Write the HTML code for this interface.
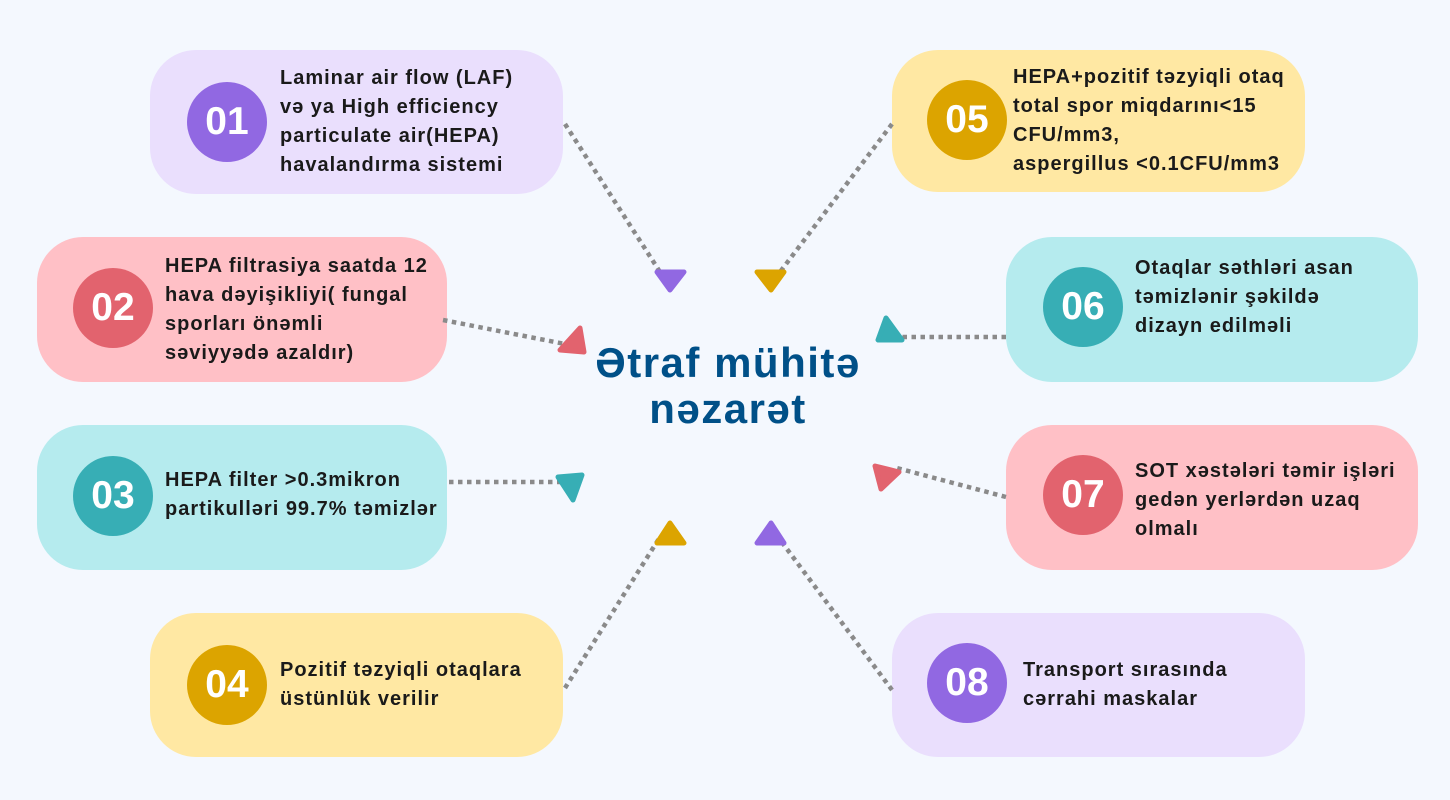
<!DOCTYPE html>
<html><head><meta charset="utf-8"><style>
body{margin:0;width:1450px;height:800px;background:#f4f8fe;position:relative;overflow:hidden;font-family:"Liberation Sans",sans-serif}
.box{position:absolute;border-radius:46px}
.c{position:absolute;width:80px;height:80px;border-radius:50%;color:#fff;font-weight:bold;font-size:39px;display:flex;align-items:center;justify-content:center;letter-spacing:0px}
.t{position:absolute;font-weight:bold;font-size:20px;letter-spacing:1px;line-height:29px;color:#1a1a1a;display:flex;align-items:center;white-space:nowrap}
.p{background:#eadffd}.pc{background:#9168e2}
.r{background:#ffc0c6}.rc{background:#e2636e}
.g{background:#b5ebee}.gc{background:#37aeb5}
.y{background:#ffe8a3}.yc{background:#dca400}
.title{position:absolute;left:478px;width:500px;top:340px;text-align:center;color:#005088;font-weight:bold;font-size:42px;letter-spacing:1.5px;line-height:46px}
svg{position:absolute;left:0;top:0}
</style></head><body>
<div class="box p" style="left:150px;top:50px;width:413px;height:144px"></div>
<div class="c pc" style="left:187px;top:82px">01</div>
<div class="t" style="left:280px;top:50px;height:144px">Laminar air flow (LAF)<br>və ya High efficiency<br>particulate air(HEPA)<br>havalandırma sistemi</div>

<div class="box r" style="left:37px;top:237px;width:410px;height:145px"></div>
<div class="c rc" style="left:73px;top:268px">02</div>
<div class="t" style="left:165px;top:237px;height:145px">HEPA filtrasiya saatda 12<br>hava dəyişikliyi( fungal<br>sporları önəmli<br>səviyyədə azaldır)</div>

<div class="box g" style="left:37px;top:425px;width:410px;height:145px"></div>
<div class="c gc" style="left:73px;top:456px">03</div>
<div class="t" style="left:165px;top:425px;height:140px">HEPA filter &gt;0.3mikron<br>partikulləri 99.7% təmizlər</div>

<div class="box y" style="left:150px;top:613px;width:413px;height:144px"></div>
<div class="c yc" style="left:187px;top:645px">04</div>
<div class="t" style="left:280px;top:613px;height:144px">Pozitif təzyiqli otaqlara<br>üstünlük verilir</div>

<div class="box y" style="left:892px;top:50px;width:413px;height:142px"></div>
<div class="c yc" style="left:927px;top:80px">05</div>
<div class="t" style="left:1013px;top:50px;height:142px">HEPA+pozitif təzyiqli otaq<br>total spor miqdarını&lt;15<br>CFU/mm3,<br>aspergillus &lt;0.1CFU/mm3</div>

<div class="box g" style="left:1006px;top:237px;width:412px;height:145px"></div>
<div class="c gc" style="left:1043px;top:267px">06</div>
<div class="t" style="left:1135px;top:237px;height:120px">Otaqlar səthləri asan<br>təmizlənir şəkildə<br>dizayn edilməli</div>

<div class="box r" style="left:1006px;top:425px;width:412px;height:145px"></div>
<div class="c rc" style="left:1043px;top:455px">07</div>
<div class="t" style="left:1135px;top:425px;height:150px">SOT xəstələri təmir işləri<br>gedən yerlərdən uzaq<br>olmalı</div>

<div class="box p" style="left:892px;top:613px;width:413px;height:144px"></div>
<div class="c pc" style="left:927px;top:643px">08</div>
<div class="t" style="left:1023px;top:613px;height:144px">Transport sırasında<br>cərrahi maskalar</div>

<svg width="1450" height="800">
<g stroke="#8a8a8a" stroke-width="4.5" stroke-dasharray="4.5 4.5" fill="none">
<line x1="565" y1="124" x2="660" y2="272"/>
<line x1="443" y1="320" x2="565" y2="344"/>
<line x1="449" y1="482" x2="560" y2="482"/>
<line x1="565" y1="688" x2="660" y2="537"/>
<line x1="892" y1="124" x2="780" y2="272"/>
<line x1="1006" y1="337" x2="895" y2="337"/>
<line x1="1006" y1="497" x2="893" y2="467"/>
<line x1="892" y1="690" x2="778" y2="537"/>
</g>
<g stroke-linejoin="round" stroke-width="5">
<polygon points="657,272 684,272 670,290" fill="#9168e2" stroke="#9168e2"/>
<polygon points="757,272 784,272 771,290" fill="#dca400" stroke="#dca400"/>
<polygon points="560,350 580,328 584,352" fill="#e2636e" stroke="#e2636e"/>
<polygon points="558,477 582,475 573,500" fill="#37aeb5" stroke="#37aeb5"/>
<polygon points="657,543 684,543 670,523" fill="#dca400" stroke="#dca400"/>
<polygon points="757,543 784,543 771,523" fill="#9168e2" stroke="#9168e2"/>
<polygon points="878,340 902,340 886,318" fill="#37aeb5" stroke="#37aeb5"/>
<polygon points="875,466 899,472 881,489" fill="#e2636e" stroke="#e2636e"/>
</g>
</svg>
<div class="title">Ətraf mühitə<br>nəzarət</div>
</body></html>
